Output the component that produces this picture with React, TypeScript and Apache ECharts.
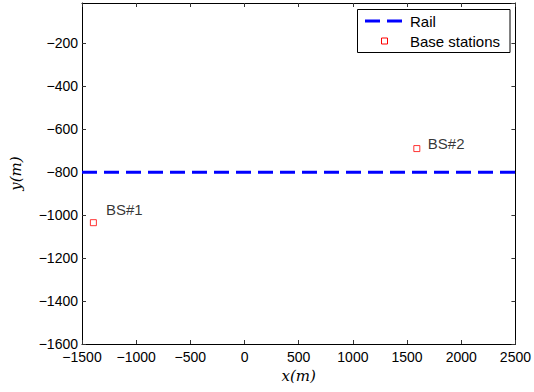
import React, { useEffect, useRef } from "react";
import * as echarts from "echarts";

const xTicks = [-1500, -1000, -500, 0, 500, 1000, 1500, 2000, 2500];
const yTicks = [-1600, -1400, -1200, -1000, -800, -600, -400, -200];
const railX = [-1500, 2500];
const railY = [-800, -800];
const bsX = [-1395, 1590];
const bsY = [-1035, -690];
const bsNames = ["BS#1", "BS#2"];
const legendNames = ["Rail", "Base stations"];

const FONT = "'Liberation Sans', Arial, Helvetica, sans-serif";
const SERIF = "'DejaVu Serif', 'Liberation Serif', serif";
const fmt = (v: number) => (v < 0 ? "\u2212" + Math.abs(v) : String(v));

export default function App() {
  const ref = useRef<HTMLDivElement>(null);
  useEffect(() => {
    if (!ref.current) return;
    const chart = echarts.init(ref.current, undefined, { renderer: "svg" });
    const xBase = {
      type: "value",
      min: xTicks[0],
      max: xTicks[xTicks.length - 1],
      interval: 500,
      splitLine: { show: false },
      axisLine: { show: true, onZero: false, lineStyle: { color: "#000", width: 1 } },
      axisTick: { show: true, inside: true, length: 4, lineStyle: { color: "#333" } },
    };
    const yBase = {
      type: "value",
      min: yTicks[0],
      max: -12,
      interval: 200,
      splitLine: { show: false },
      axisLine: { show: true, onZero: false, lineStyle: { color: "#000", width: 1 } },
      axisTick: { show: true, inside: true, length: 4, lineStyle: { color: "#333" } },
    };
    const legendText = { fontSize: 15, fontFamily: FONT, fill: "#000", verticalAlign: "middle", align: "left" };
    chart.setOption({
      animation: false,
      backgroundColor: "#fff",
      grid: { left: 82, right: 17.5, top: 3, bottom: 48, containLabel: false },
      xAxis: [
        {
          ...xBase,
          position: "bottom",
          name: "x(m)",
          nameLocation: "middle",
          nameGap: 22,
          nameTextStyle: { fontFamily: SERIF, fontStyle: "italic", fontSize: 15, color: "#000" },
          axisLabel: { show: true, margin: 6, fontSize: 14, fontFamily: FONT, color: "#000", formatter: fmt, showMaxLabel: true, showMinLabel: true },
        },
        { ...xBase, position: "top", axisLabel: { show: false } },
      ],
      yAxis: [
        {
          ...yBase,
          position: "left",
          name: "y(m)",
          nameLocation: "middle",
          nameGap: 59,
          nameTextStyle: { fontFamily: SERIF, fontStyle: "italic", fontSize: 15, color: "#000" },
          axisLabel: { show: true, margin: 4, fontSize: 14, fontFamily: FONT, color: "#000", formatter: fmt, showMaxLabel: false },
        },
        { ...yBase, position: "right", axisLabel: { show: false } },
      ],
      graphic: [
        {
          type: "group",
          z: 10,
          silent: true,
          children: [
            {
              type: "rect",
              shape: { x: 357.5, y: 9.5, width: 152.5, height: 43 },
              style: { fill: "#fff", stroke: "#000", lineWidth: 1 },
            },
            {
              type: "line",
              shape: { x1: 365, y1: 21, x2: 403, y2: 21 },
              style: { stroke: "#0000ff", lineWidth: 3, lineDash: [15, 7] },
            },
            {
              type: "text",
              x: 410,
              y: 21,
              style: { ...legendText, text: legendNames[0] },
            },
            {
              type: "rect",
              shape: { x: 381.5, y: 38, width: 6, height: 6 },
              style: { fill: "#fff", stroke: "#ff0000", lineWidth: 1 },
            },
            {
              type: "text",
              x: 410,
              y: 41,
              style: { ...legendText, text: legendNames[1] },
            },
          ],
        },
      ],
      series: [
        {
          name: legendNames[0],
          type: "line",
          showSymbol: false,
          symbol: "none",
          data: railX.map((x, i) => [x, railY[i]]),
          lineStyle: { color: "#0000ff", width: 3, type: [15, 7] },
          itemStyle: { color: "#0000ff" },
          z: 2,
        },
        {
          name: legendNames[1],
          type: "scatter",
          symbol: "rect",
          symbolSize: 6,
          itemStyle: { color: "#fff", borderColor: "#ff0000", borderWidth: 1 },
          z: 3,
          data: bsX.map((x, i) => ({
            value: [x, bsY[i]],
            name: bsNames[i],
            label: {
              show: true,
              position: "right",
              distance: 5,
              offset: i === 0 ? [4, -13] : [2.5, -5],
              formatter: "{b}",
              fontSize: 15,
              fontFamily: FONT,
              color: "#000",
            },
          })),
        },
      ],
    });
    return () => chart.dispose();
  }, []);
  return <div ref={ref} style={{ position: "absolute", left: 0, top: 0, width: 534, height: 392 }} />;
}
